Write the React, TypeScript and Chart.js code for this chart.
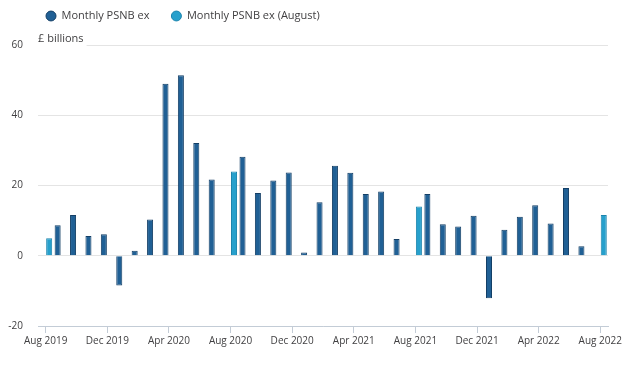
import React, { useEffect, useRef } from "react";
import { Chart, registerables } from "chart.js";

Chart.register(...registerables);

const months: string[] = [
  "Aug 2019", "Sep 2019", "Oct 2019", "Nov 2019", "Dec 2019",
  "Jan 2020", "Feb 2020", "Mar 2020", "Apr 2020", "May 2020", "Jun 2020", "Jul 2020",
  "Aug 2020", "Sep 2020", "Oct 2020", "Nov 2020", "Dec 2020",
  "Jan 2021", "Feb 2021", "Mar 2021", "Apr 2021", "May 2021", "Jun 2021", "Jul 2021",
  "Aug 2021", "Sep 2021", "Oct 2021", "Nov 2021", "Dec 2021",
  "Jan 2022", "Feb 2022", "Mar 2022", "Apr 2022", "May 2022", "Jun 2022", "Jul 2022",
  "Aug 2022",
];

const monthlyPsnb: (number | null)[] = [
  null, 8.7, 11.6, 5.6, 6.1,
  -8.5, 1.4, 10.3, 49.0, 51.4, 32.1, 21.7,
  null, 28.2, 17.9, 21.4, 23.7,
  0.9, 15.2, 25.6, 23.6, 17.6, 18.3, 4.8,
  null, 17.6, 9.0, 8.3, 11.4,
  -12.1, 7.4, 11.1, 14.4, 9.2, 19.3, 2.7,
  null,
];

const augustPsnb: (number | null)[] = [
  5.0, null, null, null, null,
  null, null, null, null, null, null, null,
  24.0, null, null, null, null,
  null, null, null, null, null, null, null,
  14.0, null, null, null, null,
  null, null, null, null, null, null, null,
  11.6,
];

const yTicks: number[] = [-20, 0, 20, 40, 60];

const FONT = "'Open Sans', sans-serif";
const TEXT = "#414042";
const AXIS = "#c3ccd6";
const GRID = "#e4e4e4";

const legendShift = {
  id: "legendShift",
  afterLayout(chart: any) {
    if (chart.legend) {
      chart.legend.left = 24;
      chart.legend.top = -11.5;
    }
  },
};

const unitLabel = {
  id: "unitLabel",
  afterDraw(chart: any) {
    const { ctx, chartArea } = chart;
    ctx.save();
    ctx.font = `11px ${FONT}`;
    const text = "£ billions";
    const w = ctx.measureText(text).width;
    ctx.fillStyle = "#ffffff";
    ctx.fillRect(chartArea.left - 1, chartArea.top - 12, w + 4, 13);
    ctx.fillStyle = TEXT;
    ctx.textBaseline = "middle";
    ctx.textAlign = "left";
    ctx.fillText(text, chartArea.left, chartArea.top - 6);
    ctx.restore();
  },
};

export default function App() {
  const canvasRef = useRef<HTMLCanvasElement | null>(null);

  useEffect(() => {
    if (!canvasRef.current) return;
    const chart = new Chart(canvasRef.current, {
      type: "bar",
      data: {
        labels: months,
        datasets: [
          {
            label: "Monthly PSNB ex",
            data: monthlyPsnb,
            backgroundColor: "#206095",
            borderColor: "#143f66",
            borderWidth: 1,
            categoryPercentage: 0.9,
            barPercentage: 0.87,
          },
          {
            label: "Monthly PSNB ex (August)",
            data: augustPsnb,
            backgroundColor: "#27a0cc",
            borderColor: "#1b84ad",
            borderWidth: 1,
            categoryPercentage: 0.9,
            barPercentage: 0.87,
          },
        ],
      },
      options: {
        responsive: false,
        animation: false,
        layout: { padding: { left: 4, right: 26, top: 2, bottom: 16 } },
        plugins: {
          legend: {
            display: true,
            position: "top",
            align: "start",
            labels: {
              usePointStyle: true,
              pointStyle: "circle",
              boxHeight: 7,
              pointStyleWidth: 10,
              padding: 22,
              color: TEXT,
              font: { family: FONT, size: 11 },
            },
          },
          tooltip: { enabled: false },
        },
        scales: {
          x: {
            offset: true,
            grid: {
              display: true,
              drawOnChartArea: false,
              drawTicks: true,
              tickLength: 7,
              offset: false,
              color: (c: any) => (c.index % 4 === 0 ? AXIS : "rgba(0,0,0,0)"),
            },
            border: { display: true, color: AXIS, width: 1 },
            ticks: {
              autoSkip: false,
              maxRotation: 0,
              minRotation: 0,
              padding: 2,
              color: TEXT,
              font: { family: FONT, size: 10 },
              callback: (_v: any, i: number) => (i % 4 === 0 ? months[i] : ""),
            },
          },
          y: {
            min: yTicks[0],
            max: yTicks[yTicks.length - 1],
            afterFit: (scale: any) => {
              scale.width = 34;
            },
            afterBuildTicks: (scale: any) => {
              scale.ticks = yTicks.map((v) => ({ value: v }));
            },
            grid: {
              color: GRID,
              drawTicks: false,
              lineWidth: 1,
            },
            border: { display: false },
            ticks: {
              padding: 15,
              color: TEXT,
              font: { family: FONT, size: 10 },
            },
          },
        },
      },
      plugins: [legendShift, unitLabel],
    });
    return () => chart.destroy();
  }, []);

  return (
    <div style={{ position: "fixed", left: 0, top: 0, width: 634, height: 365, background: "#fff" }}>
      <canvas ref={canvasRef} width={634} height={365} />
    </div>
  );
}
